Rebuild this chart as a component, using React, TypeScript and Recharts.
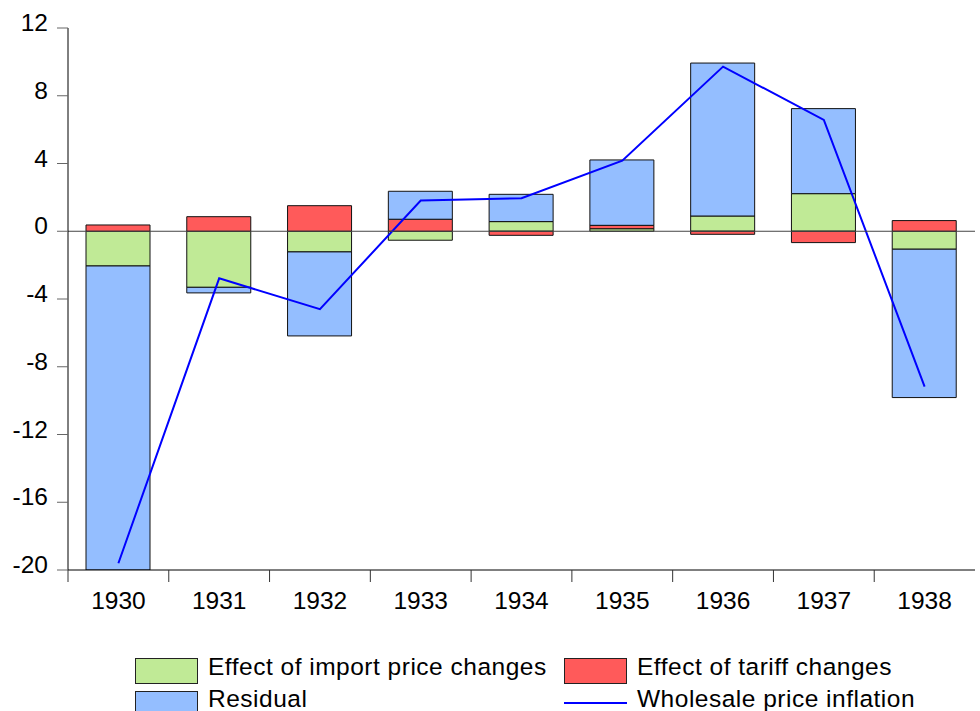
import React from 'react';
import { ComposedChart, Bar, Line, XAxis, YAxis, ReferenceLine, Legend } from 'recharts';

const years = ['1930', '1931', '1932', '1933', '1934', '1935', '1936', '1937', '1938'];
const importEffect = [-2.05, -3.31, -1.22, -0.53, 0.57, 0.15, 0.9, 2.22, -1.06];
const tariffEffect = [0.37, 0.86, 1.51, 0.71, -0.24, 0.2, -0.18, -0.67, 0.63];
const residual = [-17.95, -0.33, -4.96, 1.65, 1.61, 3.86, 9.03, 5.02, -8.76];
const wpi = [-19.6, -2.78, -4.6, 1.81, 1.95, 4.17, 9.72, 6.57, -9.17];
const yTicks = [-20, -16, -12, -8, -4, 0, 4, 8, 12];

const data = years.map((y, i) => ({
  year: y,
  importEffect: importEffect[i],
  tariffEffect: tariffEffect[i],
  residual: residual[i],
  wpi: wpi[i],
}));

const W = 980;
const H = 711;
const MARGIN = { top: 28, right: 5, left: 0, bottom: 0 };
const YAXIS_W = 68;
const XAXIS_H = 81;
const LEGEND_H = 60;
const FONT = '"Liberation Sans", Arial, Helvetica, sans-serif';
const FS = 24.5;
const BAND = (W - MARGIN.left - MARGIN.right - YAXIS_W) / years.length;

const GREEN = '#C0EA96';
const RED = '#FF5A5A';
const BLUE = '#94BEFF';

const YTick = (props: any) => {
  const { x, y, payload } = props;
  return (
    <text x={x} y={y} dy={3} textAnchor="end" fontSize={FS} fontFamily={FONT} fill="#000">
      {payload.value}
    </text>
  );
};

const XTick = (props: any) => {
  const { x, y, payload } = props;
  const bx = x - BAND / 2;
  return (
    <g>
      <line x1={bx} x2={bx} y1={y - 12} y2={y} stroke="#333" strokeWidth={1} />
      <text x={x} y={y} dy={27} textAnchor="middle" fontSize={FS} fontFamily={FONT} fill="#000">
        {payload.value}
      </text>
    </g>
  );
};

const swatch = (left: number, top: number, color: string) => (
  <div
    style={{
      position: 'absolute',
      left,
      top,
      width: 63,
      height: 26,
      background: color,
      border: '1px solid #222',
      boxSizing: 'border-box',
    }}
  />
);

const label = (left: number, top: number, text: string) => (
  <div
    style={{
      position: 'absolute',
      left,
      top,
      lineHeight: '28px',
      fontSize: FS,
      fontFamily: FONT,
      letterSpacing: '0.5px',
      color: '#000',
      whiteSpace: 'nowrap',
    }}
  >
    {text}
  </div>
);

const renderLegend = () => (
  <div style={{ position: 'relative', width: W, height: LEGEND_H, overflow: 'visible' }}>
    {swatch(135, 7, GREEN)}
    {label(208, 2, 'Effect of import price changes')}
    {swatch(564, 7, RED)}
    {label(637, 2, 'Effect of tariff changes')}
    {swatch(135, 40, BLUE)}
    {label(208, 34, 'Residual')}
    <div style={{ position: 'absolute', left: 564, top: 51, width: 63, height: 2, background: '#0000FF' }} />
    {label(637, 34, 'Wholesale price inflation')}
  </div>
);

export default function App() {
  return (
    <div style={{ position: 'absolute', left: 0, top: 0, width: W, height: H, overflow: 'hidden', background: '#fff' }}>
      <ComposedChart width={W} height={H} data={data} margin={MARGIN} stackOffset="sign">
        <XAxis
          dataKey="year"
          height={XAXIS_H}
          axisLine={{ stroke: '#000', strokeWidth: 1 }}
          tickLine={false}
          tickSize={12}
          tickMargin={0}
          tick={<XTick />}
          interval={0}
        />
        <XAxis xAxisId="top" dataKey="year" orientation="top" height={0} tick={false} tickLine={false} axisLine={{ stroke: '#000' }} />
        <YAxis
          width={YAXIS_W}
          domain={[-20, 12]}
          ticks={yTicks}
          interval={0}
          axisLine={{ stroke: '#000', strokeWidth: 1 }}
          tickLine={{ stroke: '#666' }}
          tickSize={11}
          tickMargin={9}
          tick={<YTick />}
          allowDataOverflow
        />
        <YAxis yAxisId="right" orientation="right" width={0} domain={[-20, 12]} tick={false} tickLine={false} axisLine={{ stroke: '#000' }} />
        <Bar dataKey="importEffect" name="Effect of import price changes" stackId="a" fill={GREEN} stroke="#111" strokeWidth={1} barSize={64} isAnimationActive={false} />
        <Bar dataKey="tariffEffect" name="Effect of tariff changes" stackId="a" fill={RED} stroke="#111" strokeWidth={1} barSize={64} isAnimationActive={false} />
        <Bar dataKey="residual" name="Residual" stackId="a" fill={BLUE} stroke="#111" strokeWidth={1} barSize={64} isAnimationActive={false} />
        <Line dataKey="wpi" name="Wholesale price inflation" type="linear" stroke="#0000FF" strokeWidth={2} dot={false} isAnimationActive={false} />
        <ReferenceLine y={0} stroke="#444" strokeWidth={1} />
        <Legend
          verticalAlign="bottom"
          height={LEGEND_H}
          content={renderLegend}
          wrapperStyle={{ position: 'absolute', left: 0, top: H - LEGEND_H, width: W, height: LEGEND_H }}
        />
      </ComposedChart>
    </div>
  );
}
